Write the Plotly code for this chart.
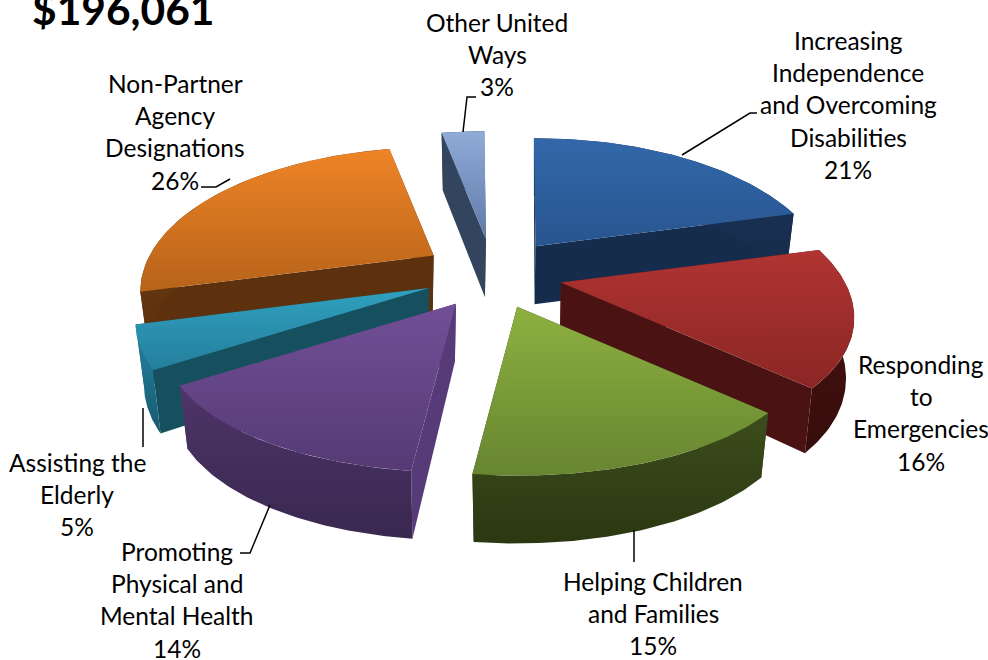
import numpy as np
import plotly.graph_objects as go

categories = ["Increasing Independence and Overcoming Disabilities", "Responding to Emergencies",
              "Helping Children and Families", "Promoting Physical and Mental Health",
              "Assisting the Elderly", "Non-Partner Agency Designations", "Other United Ways"]
values = [21, 16, 15, 14, 5, 26, 3]
title_text = "$196,061"
top_colors = [("#3268aa", "#28558f"), ("#b03432", "#8a2624"), ("#8db040", "#688530"),
              ("#724f97", "#553a75"), ("#30a0bf", "#247f9c"), ("#ef8427", "#b66319"), ("#8fabd8", "#5f7aa8")]
cut_colors = ["#162c4c", "#4a1212", "#2e3a14", "#573a78", "#16505f", "#5e310e", "#33445e"]
arc_colors = [("#1a3358", "#162c4c"), ("#4a1212", "#360d0c"), ("#3c4d1c", "#2b3812"),
              ("#4d3568", "#3a2850"), ("#2484a2", "#175a70"), ("#6a3a12", "#5e310e"), ("#33445e", "#33445e")]
label_lines = [["Increasing", "Independence", "and Overcoming", "Disabilities", "21%"],
               ["Responding", "to", "Emergencies", "16%"],
               ["Helping Children", "and Families", "15%"],
               ["Promoting", "Physical and", "Mental Health", "14%"],
               ["Assisting the", "Elderly", "5%"],
               ["Non-Partner", "Agency", "Designations", "26%"],
               ["Other United", "Ways", "3%"]]
label_anchor = [(848, 40), (921, 364), (653, 581), (177, 551), (77, 462), (175, 83), (497, 22)]
leaders = [([682, 750, 757], [155, 113, 113]), ([463, 467, 476], [132, 97, 97]),
           ([201, 216, 230], [187, 187, 179]), ([143, 143], [408, 447]),
           ([270, 250, 240], [505, 553, 553]), ([634, 634], [530, 562])]

CX, CY, R, r, DEPTH, PX, PY = 493, 274, 284, 135, 58, 70, 35
ROTATION = np.radians(-0.4)


def project(theta, ox, oy, bottom=False):
    X = np.sin(theta)
    Y = np.cos(theta)
    px = 1 / (1 + 0.25 * Y)
    py = 1 / (1 + np.where(Y > 0, 0.25, 0.2) * Y)
    sx = R * X * px
    sy = -r * Y * py
    if bottom:
        return ox + 0.972 * sx, oy + sy + DEPTH * (1 - 0.17 * np.minimum(Y, 0))
    return ox + sx, oy + sy


def poly(fig, xs, ys, colors):
    if isinstance(colors, str):
        colors = (colors, colors)
    # with the reversed y axis the gradient's 1 end lands at the top of the shape
    fig.add_trace(go.Scatter(x=xs, y=ys, mode="lines", fill="toself", line=dict(width=0),
                             fillgradient=dict(type="vertical", colorscale=[[0, colors[1]], [1, colors[0]]]),
                             hoverinfo="skip", showlegend=False))


fig = go.Figure()
fracs = np.array(values) / sum(values)
edges = np.concatenate([[0], np.cumsum(fracs)]) * 2 * np.pi + ROTATION
order = [6, 0, 5, 4, 1, 3, 2]
for i in order:
    a0, a1 = edges[i], edges[i + 1]
    mid = (a0 + a1) / 2
    ox, oy = CX + PX * np.sin(mid), CY - PY * np.cos(mid)
    t = np.linspace(a0, a1, 60)
    tx, ty = project(t, ox, oy)
    bx, by = project(t, ox, oy, True)
    for a in (a0, a1):
        ex, ey = project(a, ox, oy)
        fx, fy = project(a, ox, oy, True)
        poly(fig, [ox, ex, fx, ox - 1, ox], [oy, ey, fy, oy + DEPTH, oy], cut_colors[i])
    poly(fig, np.r_[tx, bx[::-1], tx[0]], np.r_[ty, by[::-1], ty[0]], arc_colors[i])
    poly(fig, np.r_[ox, tx, ox], np.r_[oy, ty, oy], top_colors[i])

for lx, ly in leaders:
    fig.add_trace(go.Scatter(x=lx, y=ly, mode="lines", line=dict(color="black", width=1.5),
                             hoverinfo="skip", showlegend=False))

annotations = [dict(x=30, y=8, text=f"<b>{title_text}</b>", showarrow=False, xanchor="left", yanchor="middle",
                    font=dict(family="Lato", size=42.5, color="black"))]
for lines, (ax, ay) in zip(label_lines, label_anchor):
    for k, line in enumerate(lines):
        annotations.append(dict(x=ax, y=ay + k * 32.4, text=line, showarrow=False, xanchor="center", yanchor="middle",
                                font=dict(family="Lato", size=24.5, color="black")))

fig.update_layout(width=988, height=660, margin=dict(l=0, r=0, t=0, b=0), paper_bgcolor="white",
                  plot_bgcolor="white", annotations=annotations,
                  xaxis=dict(range=[0, 988], visible=False, fixedrange=True),
                  yaxis=dict(range=[660, 0], visible=False, fixedrange=True))
fig.write_html("out.html", config=dict(displayModeBar=False),
               post_script="document.body.style.margin='0';document.body.style.overflow='hidden';")
